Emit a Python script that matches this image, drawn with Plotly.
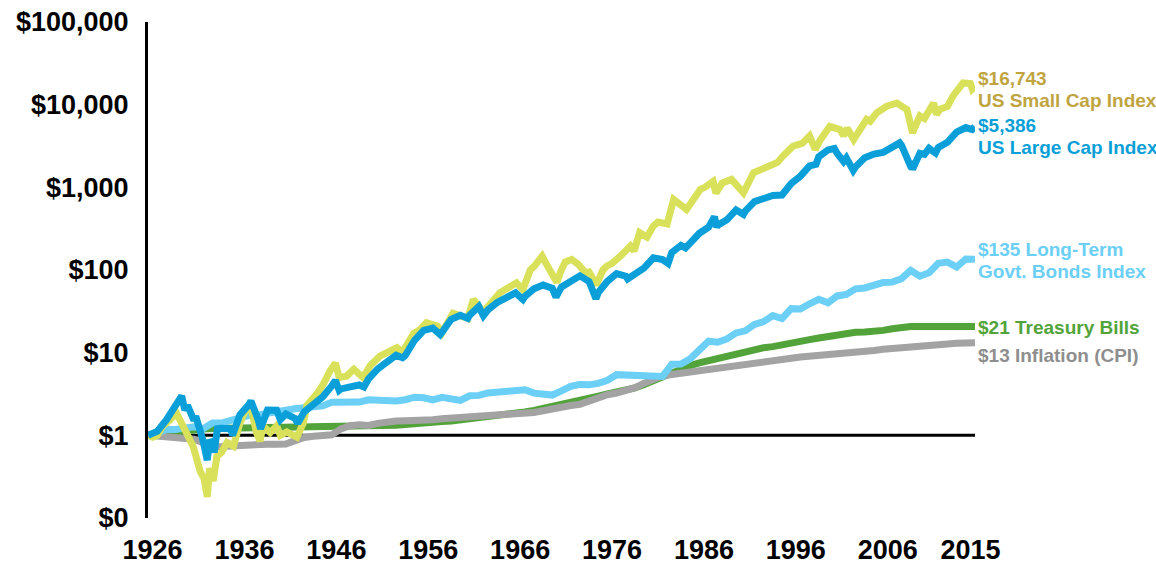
import plotly.graph_objects as go
import math

# ---------------- data (growth of $1, time in fractional years; 1926.0 = start, 2016.0 = end of 2015)
SMALL_T = [1926.0, 1926.5, 1927.0, 1927.6, 1928.3, 1929.1, 1929.8, 1930.3, 1930.9, 1931.7, 1932.1, 1932.45,
           1932.7, 1933.1, 1933.5, 1934.0, 1934.6, 1935.3, 1936.0, 1936.7, 1937.2, 1937.8, 1938.2, 1938.5,
           1939.3, 1940.0, 1940.4, 1941.1, 1942.2, 1942.9, 1943.3, 1944.4, 1945.0, 1945.8, 1946.4, 1946.8,
           1947.6, 1948.4, 1949.4, 1950.2, 1951.2, 1952.0, 1953.1, 1953.7, 1954.9, 1955.6, 1956.3, 1957.5,
           1958.0, 1959.2, 1960.0, 1960.8, 1961.4, 1962.5, 1963.5, 1964.3, 1965.3, 1966.1, 1966.8, 1967.6,
           1968.0, 1968.9, 1969.5, 1970.5, 1970.9, 1971.4, 1972.1, 1972.8, 1973.6, 1974.0, 1974.8, 1975.5,
           1975.9, 1976.5, 1977.4, 1978.5, 1978.9, 1979.5, 1980.3, 1981.0, 1981.5, 1982.5, 1983.2, 1984.6,
           1985.3, 1986.1, 1986.6, 1987.5, 1987.8, 1988.5, 1989.5, 1990.8, 1991.9, 1993.3, 1994.5, 1995.1,
           1996.2, 1997.2, 1998.0, 1998.6, 1999.2, 2000.2, 2001.3, 2001.7, 2002.1, 2002.8, 2004.2, 2004.6,
           2005.3, 2006.4, 2007.5, 2008.6, 2009.2, 2010.0, 2010.5, 2011.5, 2011.8, 2012.2, 2013.0, 2013.6,
           2014.7, 2015.5, 2015.7, 2016.0]
SMALL_V = [1.0, 0.95, 1.0, 1.3, 1.5, 1.85, 1.3, 1.05, 0.74, 0.36, 0.30, 0.18,
           0.40, 0.28, 0.56, 0.62, 0.82, 0.74, 1.4, 2.1, 2.2, 1.08, 0.85, 1.3,
           1.08, 1.3, 1.0, 1.1, 0.95, 1.4, 2.3, 3.2, 4.0, 6.0, 7.5, 5.0,
           5.2, 6.3, 5.0, 7.0, 9.0, 10.0, 11.5, 10.2, 17, 19, 23, 21,
           17.5, 30, 28, 26, 44, 31, 42, 53, 62, 70, 58, 100,
           110, 147, 110, 71, 95, 125, 134, 118, 93, 95, 66, 100,
           111, 120, 147, 195, 170, 283, 250, 340, 380, 360, 714, 541,
           700, 943, 1000, 1180, 850, 1130, 1245, 860, 1500, 1800, 2000, 2390,
           3150, 3400, 4180, 2870, 3800, 5470, 5000, 4200, 5200, 3800, 6650, 6300,
           7950, 9560, 10470, 8700, 4560, 7300, 6800, 10470, 7600, 8800, 9500, 12700,
           18300, 18000, 15500, 16743]

LARGE_T = [1926.0, 1927.0, 1928.0, 1929.0, 1929.67, 1930.0, 1930.3, 1931.0, 1931.2, 1932.0, 1932.45, 1932.7,
           1933.0, 1933.2, 1933.55, 1934.0, 1935.0, 1935.2, 1936.0, 1937.0, 1937.2, 1938.0, 1938.25, 1939.0,
           1940.0, 1940.4, 1941.0, 1942.0, 1942.3, 1943.0, 1944.0, 1945.0, 1946.0, 1946.4, 1946.8, 1947.0,
           1948.0, 1949.0, 1949.5, 1950.0, 1951.0, 1952.0, 1953.0, 1953.7, 1954.0, 1955.0, 1956.0, 1957.0,
           1957.8, 1958.0, 1959.0, 1960.0, 1960.8, 1961.0, 1962.0, 1962.5, 1963.0, 1964.0, 1965.0, 1966.0,
           1966.8, 1967.0, 1968.0, 1969.0, 1970.0, 1970.4, 1971.0, 1972.0, 1973.0, 1974.0, 1974.75, 1975.0,
           1976.0, 1977.0, 1978.0, 1978.2, 1979.0, 1980.0, 1981.0, 1982.0, 1982.6, 1983.0, 1984.0, 1984.5,
           1985.0, 1986.0, 1987.0, 1987.65, 1987.9, 1988.0, 1989.0, 1990.0, 1990.8, 1991.0, 1992.0, 1993.0,
           1994.0, 1995.0, 1996.0, 1997.0, 1998.0, 1998.7, 1999.0, 2000.0, 2000.7, 2001.0, 2001.7, 2002.0,
           2002.75, 2003.0, 2004.0, 2005.0, 2006.0, 2007.0, 2007.8, 2008.0, 2008.85, 2009.0, 2009.2, 2010.0,
           2010.5, 2011.0, 2011.7, 2012.0, 2013.0, 2014.0, 2015.0, 2015.7, 2016.0]
LARGE_V = [1.000, 1.117, 1.535, 2.204, 3.00, 2.018, 2.3, 1.516, 1.7, 0.859, 0.50, 0.88,
           0.789, 0.62, 1.20, 1.214, 1.197, 1.0, 1.767, 2.367, 2.60, 1.538, 1.20, 2.016,
           2.008, 1.55, 1.812, 1.602, 1.40, 1.927, 2.427, 2.906, 3.965, 4.60, 3.50, 3.645,
           3.853, 4.065, 3.85, 4.829, 6.360, 7.888, 9.336, 8.7, 9.244, 14.108, 18.561, 19.778,
           16.5, 17.646, 25.298, 28.322, 26.0, 28.455, 36.106, 28.0, 32.954, 40.469, 47.139, 53.008,
           44.0, 47.674, 59.104, 65.642, 60.059, 47.0, 62.465, 71.406, 84.956, 72.500, 45.0, 53.311,
           73.144, 90.584, 84.077, 78.0, 89.592, 106.113, 140.514, 133.616, 120.0, 162.223, 198.745, 185.0,
           211.199, 278.237, 329.584, 440.0, 330.0, 346.720, 404.251, 532.099, 470.0, 515.518, 672.593, 723.838,
           796.563, 807.093, 1110.4, 1365.4, 1820.9, 1900.0, 2341.3, 2834.0, 2950.0, 2576.0, 2050.0, 2269.8,
           1600.0, 1768.2, 2275.4, 2523.1, 2647.0, 3065.3, 3450.0, 3233.8, 1950.0, 2037.3, 1650.0, 2576.5,
           2500.0, 2964.6, 2600.0, 3027.3, 3511.7, 4649.1, 5285.6, 5000.0, 5386.0]

YEAR_END_T = [1926.0 + i for i in range(91)]
BONDS_V = [1.0, 1.078, 1.174, 1.175, 1.215, 1.272, 1.204, 1.407, 1.406, 1.547, 1.624, 1.746, 1.750, 1.847,
           1.957, 2.076, 2.095, 2.162, 2.207, 2.269, 2.506, 2.502, 2.439, 2.526, 2.689, 2.676, 2.577, 2.609,
           2.694, 2.889, 2.851, 2.686, 2.882, 2.713, 2.650, 3.012, 3.042, 3.254, 3.293, 3.410, 3.435, 3.564,
           3.238, 3.229, 3.070, 3.446, 3.904, 4.127, 4.081, 4.256, 4.643, 5.422, 5.386, 5.322, 5.258, 5.052,
           5.150, 7.251, 7.298, 8.427, 11.037, 13.745, 13.372, 14.665, 17.322, 18.392, 21.942, 23.709, 28.034,
           25.856, 34.044, 33.727, 39.074, 44.178, 40.218, 48.560, 50.684, 59.151, 60.620, 65.746, 70.483,
           71.287, 78.426, 98.827, 84.212, 92.585, 120.309, 124.553, 108.481, 135.935, 135.0]
TBILLS_V = [1.0, 1.033, 1.065, 1.103, 1.155, 1.183, 1.196, 1.207, 1.211, 1.213, 1.215, 1.217, 1.221, 1.221,
            1.221, 1.221, 1.222, 1.225, 1.229, 1.233, 1.237, 1.242, 1.248, 1.258, 1.272, 1.287, 1.306, 1.328,
            1.352, 1.363, 1.385, 1.421, 1.466, 1.488, 1.530, 1.572, 1.606, 1.650, 1.702, 1.760, 1.829, 1.916,
            1.997, 2.101, 2.239, 2.385, 2.490, 2.585, 2.764, 2.986, 3.159, 3.319, 3.490, 3.739, 4.112, 4.572,
            5.259, 5.828, 6.344, 6.978, 7.519, 7.996, 8.459, 9.000, 9.759, 10.506, 11.091, 11.483, 11.830,
            12.287, 12.983, 13.647, 14.358, 15.041, 15.759, 16.700, 17.339, 17.616, 17.799, 18.039, 18.593,
            19.465, 20.367, 20.695, 20.721, 20.745, 20.755, 20.773, 20.781, 20.787, 20.79]
CPI_V = [1.0, 0.985, 0.965, 0.955, 0.957, 0.899, 0.814, 0.730, 0.734, 0.749, 0.771, 0.780, 0.804, 0.782,
         0.778, 0.786, 0.862, 0.942, 0.972, 0.992, 1.014, 1.199, 1.307, 1.343, 1.318, 1.395, 1.477, 1.490,
         1.499, 1.492, 1.497, 1.540, 1.587, 1.615, 1.639, 1.663, 1.674, 1.695, 1.723, 1.743, 1.777, 1.836,
         1.892, 1.981, 2.102, 2.218, 2.292, 2.371, 2.579, 2.894, 3.097, 3.246, 3.466, 3.778, 4.281, 4.812,
         5.242, 5.445, 5.652, 5.873, 6.088, 6.158, 6.424, 6.714, 7.019, 7.456, 7.689, 7.918, 8.133, 8.351,
         8.563, 8.847, 9.002, 9.145, 9.389, 9.707, 9.857, 10.091, 10.281, 10.616, 10.977, 11.257, 11.718,
         11.728, 12.048, 12.227, 12.589, 12.807, 12.998, 13.086, 13.178]

SERIES_NAMES = ["Treasury Bills", "Inflation (CPI)", "Long-Term Govt. Bonds Index",
                "US Small Cap Index", "US Large Cap Index"]
END_LABELS = [["$21 Treasury Bills"], ["$13 Inflation (CPI)"], ["$135 Long-Term", "Govt. Bonds Index"],
              ["$16,743", "US Small Cap Index"], ["$5,386", "US Large Cap Index"]]

Y_TICKS = [0.1, 1, 10, 100, 1000, 10000, 100000]
Y_TICK_TEXT = ["$0", "$1", "$10", "$100", "$1,000", "$10,000", "$100,000"]
X_TICK_YEARS = [1926, 1936, 1946, 1956, 1966, 1976, 1986, 1996, 2006, 2015]
BASELINE = 1

# ---------------- styling
LINE_COLORS = ["#52A43A", "#A3A3A3", "#6BCFF6", "#D9E15A", "#0A9FD8"]
LABEL_COLORS = ["#52A43A", "#8E8E8E", "#6BCFF6", "#BFA43F", "#0A9FD8"]
LABEL_YSHIFT = [-1, -13, -1, -3, -10]
LINE_GAP = 11
FONT = "Liberation Sans"

series = [
    (YEAR_END_T, TBILLS_V),
    (YEAR_END_T, CPI_V),
    (YEAR_END_T, BONDS_V),
    (SMALL_T, SMALL_V),
    (LARGE_T, LARGE_V),
]

fig = go.Figure()
for (t, v), name, col in zip(series, SERIES_NAMES, LINE_COLORS):
    fig.add_trace(go.Scatter(x=t, y=v, name=name, mode="lines",
                             line=dict(color=col, width=7), showlegend=False))

for (t, v), lines, col, ys in zip(series, END_LABELS, LABEL_COLORS, LABEL_YSHIFT):
    n = len(lines)
    for i, txt in enumerate(lines):
        off = ((n - 1) / 2 - i) * 2 * LINE_GAP
        fig.add_annotation(x=t[-1], y=math.log10(v[-1]), xref="x", yref="y", text=txt,
                           showarrow=False, xanchor="left", yanchor="middle", align="left",
                           xshift=1, yshift=ys + off,
                           font=dict(family=FONT, size=19, color=col, weight="bold"))

fig.add_shape(type="line", xref="x", yref="y", x0=YEAR_END_T[0], x1=YEAR_END_T[-1],
              y0=BASELINE, y1=BASELINE, line=dict(color="black", width=3), layer="below")

tick_font = dict(family=FONT, size=27, color="black", weight="bold")
fig.update_layout(
    width=1156, height=564,
    margin=dict(l=148, r=181, t=22, b=46),
    paper_bgcolor="white", plot_bgcolor="white",
    xaxis=dict(range=[YEAR_END_T[0], YEAR_END_T[-1]], showgrid=False, zeroline=False,
               showline=False, ticks="", tickvals=[y + 0.5 for y in X_TICK_YEARS],
               ticktext=[str(y) for y in X_TICK_YEARS], tickfont=tick_font,
               ticklabelstandoff=13, automargin=False, ticklabeloverflow="allow"),
    yaxis=dict(type="log", range=[-1, 5], showgrid=False, zeroline=False,
               showline=True, linecolor="black", linewidth=3, ticks="",
               tickvals=Y_TICKS, ticktext=Y_TICK_TEXT, tickfont=tick_font,
               ticklabelstandoff=11, automargin=False, ticklabeloverflow="allow"),
)

# remove the default page margin so the figure fills the window exactly
fig.write_html("out.html", config={"displayModeBar": False},
               post_script="document.body.style.margin='0';document.body.style.overflow='hidden';")
